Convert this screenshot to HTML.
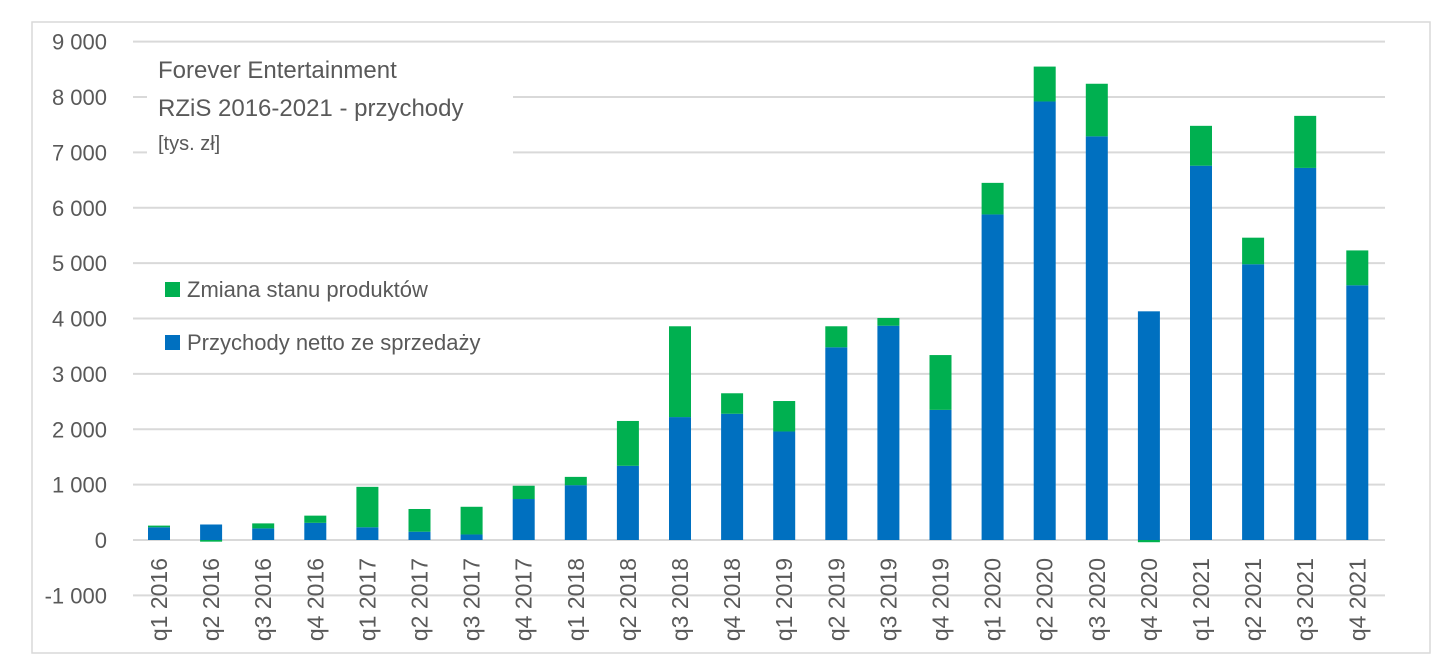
<!DOCTYPE html>
<html><head><meta charset="utf-8"><style>
body{margin:0;background:#fff;font-family:"Liberation Sans",sans-serif}
svg{display:block}
</style></head><body>
<svg id="chart" width="1441" height="664">
<rect x="32" y="22" width="1398" height="631" fill="#fff" stroke="#d9d9d9" stroke-width="1.5"/>
<g id="grid"></g><g id="bars"></g><g id="ylab"></g><g id="xlab"></g>
<rect x="147" y="52" width="366" height="108" fill="#fff"/>
<g fill="#595959" font-size="24">
<text x="158" y="78">Forever Entertainment</text>
<text x="158" y="116">RZiS 2016-2021 - przychody</text>
<text x="158" y="150" font-size="20">[tys. zł]</text>
</g>
<g>
<g><rect x="165" y="282" width="15" height="15" fill="#00b050"/><text x="187" y="297" font-size="22" fill="#595959">Zmiana stanu produktów</text></g>
<g><rect x="165" y="335" width="15" height="15" fill="#0070c0"/><text x="187" y="350" font-size="22" fill="#595959">Przychody netto ze sprzedaży</text></g>
</g>
</svg>
<script>
const categories=["q1 2016","q2 2016","q3 2016","q4 2016","q1 2017","q2 2017","q3 2017","q4 2017","q1 2018","q2 2018","q3 2018","q4 2018","q1 2019","q2 2019","q3 2019","q4 2019","q1 2020","q2 2020","q3 2020","q4 2020","q1 2021","q2 2021","q3 2021","q4 2021"];
const przychody=[230,280,210,310,230,150,100,740,990,1340,2220,2280,1960,3480,3870,2350,5880,7920,7290,4130,6760,4980,6720,4600];
const zmiana=[30,-30,90,130,730,410,500,240,150,810,1640,370,550,380,140,990,570,630,950,-40,720,480,940,630];
const yTicks=[-1000,0,1000,2000,3000,4000,5000,6000,7000,8000,9000];
const yTickLabels=["-1 000","0","1 000","2 000","3 000","4 000","5 000","6 000","7 000","8 000","9 000"];
const NS="http://www.w3.org/2000/svg";
const y=v=>540-v*0.05537;
const x=i=>159+i*52.1;
const BW=22;
function mk(t,a,p){const e=document.createElementNS(NS,t);for(const k in a)e.setAttribute(k,a[k]);p.appendChild(e);return e;}
const grid=document.getElementById('grid'),bars=document.getElementById('bars'),yl=document.getElementById('ylab'),xl=document.getElementById('xlab');
yTicks.forEach((v,i)=>{
 const l=mk('line',{x1:133,x2:1385,y1:y(v),y2:y(v),stroke:'#d9d9d9','stroke-width':2},grid);
 
 
 const t=mk('text',{x:107,y:y(v)+8,'text-anchor':'end','font-size':22,fill:'#595959'},yl);
 t.textContent=yTickLabels[i];
 
 
});
categories.forEach((c,i)=>{
 const b=przychody[i],g=zmiana[i];
 const r=mk('rect',{x:x(i)-BW/2,y:y(Math.max(b,0)),width:BW,height:Math.abs(y(0)-y(b)),fill:'#0070c0'},bars);
 
 
 let y0,y1;
 if(g>=0){y0=y(b+g);y1=y(b);}else{y0=y(0);y1=y(g);}
 const r2=mk('rect',{x:x(i)-BW/2,y:y0,width:BW,height:Math.max(y1-y0,1.5),fill:g>=0?'#00b050':'#00b050'},bars);
 
 
 const t=mk('text',{transform:`translate(${x(i)+8},558) rotate(-90)`,'text-anchor':'end','font-size':23,fill:'#595959'},xl);
 t.textContent=c;
 
 
});
</script>
</body></html>
